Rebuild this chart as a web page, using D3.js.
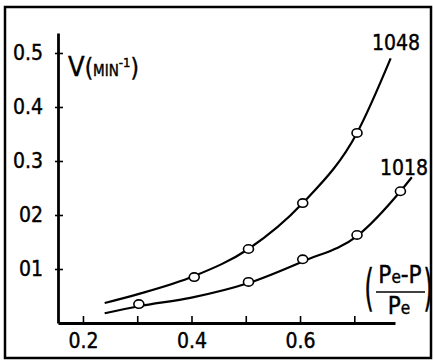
<!DOCTYPE html>
<html>
<head>
<meta charset="utf-8">
<script src="https://cdn.jsdelivr.net/npm/d3@7"></script>
<style>
  body { margin: 0; background: #fff; }
  svg { display: block; }
  text { font-family: "DejaVu Sans Condensed", "DejaVu Sans", sans-serif; font-stretch: condensed; fill: #000; stroke: #000; stroke-width: 0.4px; }
</style>
</head>
<body>
<div id="chart"></div>
<script>
// Set dimensions
const width = 434;
const height = 361;

// Tick values and labels (as printed)
const xTicks = [0.2, 0.3, 0.4, 0.5, 0.6, 0.7];
const xTickLabels = {0.2: "0.2", 0.4: "0.4", 0.6: "0.6"};
const yTicks = [0.1, 0.2, 0.3, 0.4, 0.5];
const yTickLabels = ["01", "02", "0.3", "0.4", "0.5"];

// Measured points, series 1048
const x1048 = [0.405, 0.505, 0.605, 0.705];
const v1048 = [0.085, 0.137, 0.222, 0.352];
// Measured points, series 1018
const x1018 = [0.303, 0.505, 0.605, 0.705, 0.785];
const v1018 = [0.035, 0.076, 0.118, 0.163, 0.244];

// Hand-drawn curves
const curveX1048 = [0.24, 0.30, 0.405, 0.505, 0.605, 0.705, 0.767];
const curveV1048 = [0.037, 0.053, 0.087, 0.137, 0.222, 0.352, 0.49];
const curveX1018 = [0.24, 0.303, 0.40, 0.505, 0.605, 0.705, 0.785, 0.806];
const curveV1018 = [0.018, 0.031, 0.047, 0.074, 0.114, 0.161, 0.244, 0.27];

const svg = d3.select("#chart")
  .append("svg")
  .attr("width", width)
  .attr("height", height);

// Outer frame
svg.append("rect")
  .attr("x", 5)
  .attr("y", 7)
  .attr("width", 426)
  .attr("height", 351)
  .attr("fill", "none")
  .attr("stroke", "#000")
  .attr("stroke-width", 2.5);

const x = d3.scaleLinear().domain([0.154, 0.775]).range([58, 395]);
const y = d3.scaleLinear().domain([0, 0.537]).range([323, 33]);

// X axis
const xAxis = svg.append("g")
  .attr("transform", `translate(0,${y(0)})`)
  .call(d3.axisBottom(x)
    .tickValues(xTicks)
    .tickSizeInner(-7)
    .tickSizeOuter(0)
    .tickPadding(10)
    .tickFormat(d => xTickLabels[d] || ""));

// Y axis
const yAxis = svg.append("g")
  .attr("transform", `translate(${x(0.154)},0)`)
  .call(d3.axisLeft(y)
    .tickValues(yTicks)
    .tickSizeInner(-5)
    .tickSizeOuter(0)
    .tickPadding(15)
    .tickFormat((d, i) => yTickLabels[i]));

yAxis.selectAll(".tick line").attr("x1", -3);

[xAxis, yAxis].forEach(g => {
  g.select(".domain").attr("stroke", "#000").attr("stroke-width", 2.8);
  g.selectAll(".tick line").attr("stroke", "#000").attr("stroke-width", 1.6);
  g.selectAll(".tick text")
    .style("font-size", "21px")
    .style("font-family", "\"DejaVu Sans Condensed\", \"DejaVu Sans\", sans-serif");
});

// Curves
const line = d3.line()
  .x(d => x(d[0]))
  .y(d => y(d[1]))
  .curve(d3.curveMonotoneX);

[[curveX1048, curveV1048], [curveX1018, curveV1018]].forEach(([xs, vs]) => {
  svg.append("path")
    .attr("fill", "none")
    .attr("stroke", "#000")
    .attr("stroke-width", 2.2)
    .attr("d", line(xs.map((d, i) => [d, vs[i]])));
});

// Points
const pts = x1048.map((d, i) => [d, v1048[i]])
  .concat(x1018.map((d, i) => [d, v1018[i]]));

svg.selectAll("ellipse.pt")
  .data(pts)
  .enter()
  .append("ellipse")
  .attr("class", "pt")
  .attr("cx", d => x(d[0]))
  .attr("cy", d => y(d[1]))
  .attr("rx", 5)
  .attr("ry", 4.2)
  .attr("fill", "#fff")
  .attr("stroke", "#000")
  .attr("stroke-width", 1.6);

// Series labels
svg.append("text")
  .attr("x", 396)
  .attr("y", 50)
  .attr("text-anchor", "middle")
  .style("font-size", "21px")
  .text("1048");

svg.append("text")
  .attr("x", 404)
  .attr("y", 175)
  .attr("text-anchor", "middle")
  .style("font-size", "21px")
  .text("1018");

// Y axis title V(MIN^-1)
const vt = svg.append("text")
  .attr("x", 68)
  .attr("y", 76);
vt.append("tspan").style("font-size", "27px").text("V");
vt.append("tspan").style("font-size", "24px").text("(");
vt.append("tspan").style("font-size", "15px").text("MIN");
vt.append("tspan").style("font-size", "13px").attr("dy", -9).text("-1");
vt.append("tspan").style("font-size", "24px").attr("dy", 9).text(")");

// X axis title (Pe - P)/Pe
svg.append("text")
  .attr("transform", "translate(369,305) scale(0.55,1)")
  .attr("text-anchor", "middle")
  .style("font-size", "50px")
  .text("(");
svg.append("text")
  .attr("transform", "translate(428,305) scale(0.55,1)")
  .attr("text-anchor", "middle")
  .style("font-size", "50px")
  .text(")");

const num = svg.append("text")
  .attr("x", 400)
  .attr("y", 283)
  .attr("text-anchor", "middle")
  .style("font-size", "24px");
num.append("tspan").text("P");
num.append("tspan").style("font-size", "17px").text("e");
num.append("tspan").text("-P");

svg.append("line")
  .attr("x1", 376)
  .attr("x2", 425)
  .attr("y1", 292)
  .attr("y2", 292)
  .attr("stroke", "#000")
  .attr("stroke-width", 1.6);

const den = svg.append("text")
  .attr("x", 399)
  .attr("y", 314)
  .attr("text-anchor", "middle")
  .style("font-size", "24px");
den.append("tspan").text("P");
den.append("tspan").style("font-size", "17px").text("e");
</script>
</body>
</html>
